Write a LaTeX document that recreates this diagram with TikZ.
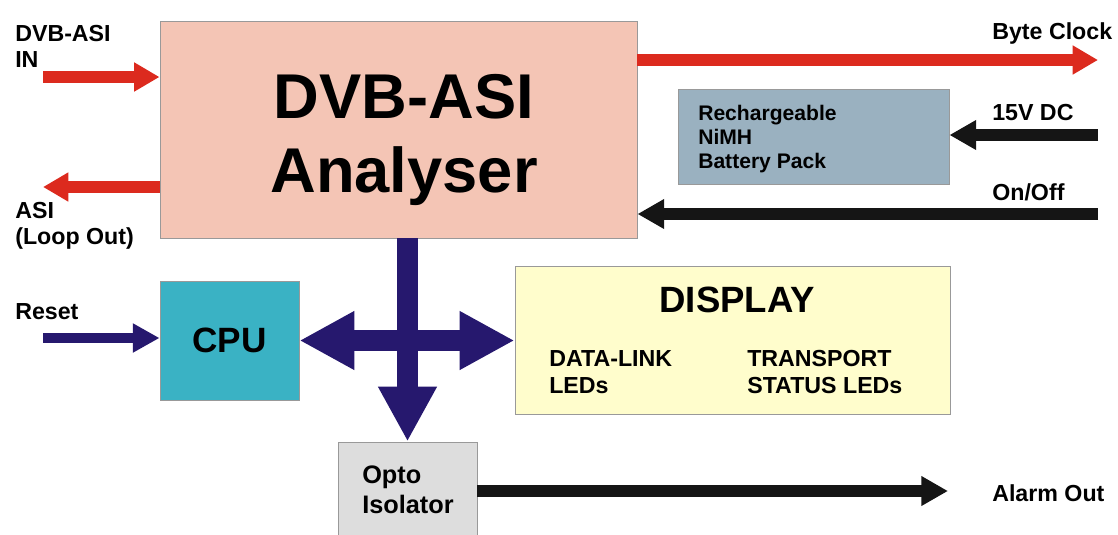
\documentclass[tikz,border=0pt]{standalone}
\usepackage{fontspec}
\setmainfont{Liberation Sans}
\usetikzlibrary{arrows.meta}

\definecolor{asired}{HTML}{DC2A1E}
\definecolor{busblue}{HTML}{26186E}
\definecolor{sigblack}{HTML}{151515}
\definecolor{anfill}{HTML}{F4C5B5}
\definecolor{batfill}{HTML}{9AB1C0}
\definecolor{cpufill}{HTML}{3AB2C4}
\definecolor{dispfill}{HTML}{FFFDCC}
\definecolor{optofill}{HTML}{DDDDDD}

\tikzset{
  block/.style={draw=gray!80, line width=0.6pt, rectangle, inner sep=0pt},
  lbl/.style={font=\bfseries\fontsize{16.5}{18.5}\selectfont, align=left, inner sep=0pt, anchor=west},
  redarrow/.style={draw=asired, line width=8pt, -{Triangle[length=18pt,width=19.5pt]}},
  blkarrow/.style={draw=sigblack, line width=8.5pt, -{Triangle[length=19pt,width=20pt]}},
  rstarrow/.style={draw=busblue, line width=7.8pt, -{Triangle[length=19pt,width=19.5pt]}},
  bus/.style={draw=busblue, line width=15pt}
}

\begin{document}
\begin{tikzpicture}[x=0.025cm, y=-0.025cm]
\clip (0,0) rectangle (1118,534);

% blocks
\node[block, fill=anfill, minimum width=11.925cm, minimum height=5.425cm] (an) at (398.5,129.5) {};
\node[font=\bfseries\fontsize{45}{52}\selectfont, align=center, inner sep=0pt] (antxt) at (404,140) {DVB-ASI\\Analyser};
\node[block, fill=batfill, minimum width=6.775cm, minimum height=2.375cm] (bat) at (813.5,136.5) {};
\node[lbl, font=\bfseries\fontsize{15}{17}\selectfont] (battxt) at (698,139) {Rechargeable\\NiMH\\Battery Pack};
\node[block, fill=cpufill, minimum width=3.475cm, minimum height=2.975cm,
  font=\bfseries\fontsize{25}{28}\selectfont] (cpu) at (229.5,340.5) {CPU};
\node[block, fill=dispfill, minimum width=10.875cm, minimum height=3.7cm] (disp) at (732.5,340) {};
\node[font=\bfseries\fontsize{26}{30}\selectfont, inner sep=0pt] (disptitle) at (737,300) {DISPLAY};
\node[lbl, font=\bfseries\fontsize{16.5}{19.2}\selectfont] (dlink) at (549,372) {DATA-LINK\\LEDs};
\node[lbl, font=\bfseries\fontsize{16.5}{19.2}\selectfont] (tstat) at (747,372) {TRANSPORT\\STATUS LEDs};
\node[block, fill=optofill, minimum width=3.475cm, minimum height=2.575cm] (opto) at (407.5,493.5) {};
\node[lbl, font=\bfseries\fontsize{18}{21.3}\selectfont] (optotxt) at (362,490) {Opto\\Isolator};

% labels
\node[lbl] (inlbl) at (15,46) {DVB-ASI\\IN};
\node[lbl] (looplbl) at (15,226) {ASI\\(Loop Out)};
\node[lbl] (rstlbl) at (15,312) {Reset};
\node[lbl] (clklbl) at (992,33) {Byte Clock};
\node[lbl] (dclbl) at (992,113) {15V DC};
\node[lbl] (onlbl) at (992,192) {On/Off};
\node[lbl] (almlbl) at (992,493) {Alarm Out};

% signals
\coordinate (inL) at (43,77);
\coordinate (loopL) at (43,187);
\coordinate (clkR) at (1098,60);
\coordinate (dcR) at (1098,135);
\coordinate (onR) at (1098,214);
\coordinate (rstL) at (43,338);
\coordinate (almR) at (948,491);
\draw[redarrow] (inL) -- (inL -| an.west);
\draw[redarrow] (loopL -| an.west) -- (loopL);
\draw[redarrow] (clkR -| an.east) -- (clkR);
\draw[blkarrow] (dcR) -- (dcR -| bat.east);
\draw[blkarrow] (onR) -- (onR -| an.east);
\draw[rstarrow] (rstL) -- (rstL -| cpu.west);
\draw[blkarrow] (almR -| opto.east) -- (almR);

% bus
\draw[bus, -{Triangle[length=39pt,width=39pt]}] (an.south -| opto.north) -- (opto.north);
\draw[bus, {Triangle[length=39pt,width=39pt]}-{Triangle[length=39pt,width=39pt]}]
  (cpu.east) -- (cpu.east -| disp.west);
\end{tikzpicture}
\end{document}
